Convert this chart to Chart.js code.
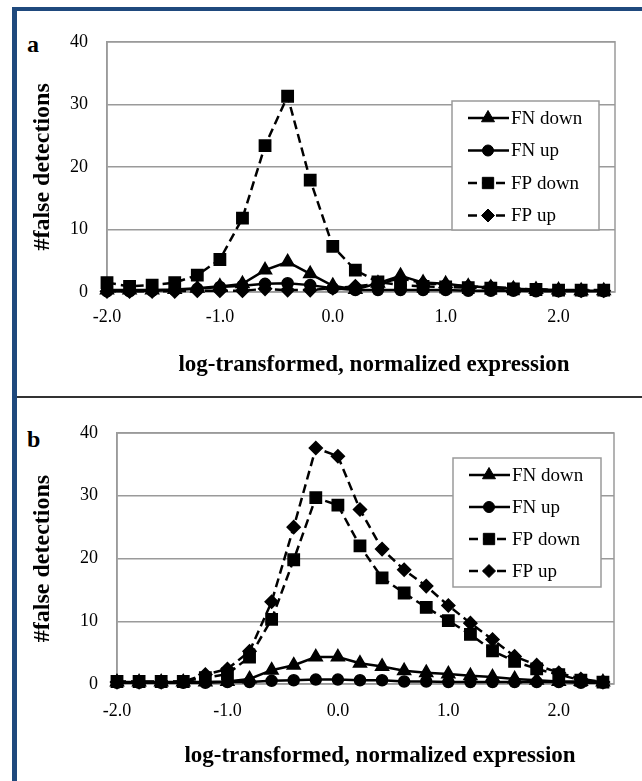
<!DOCTYPE html>
<html>
<head>
<meta charset="utf-8">
<script src="https://cdn.jsdelivr.net/npm/chart.js@4.4.1/dist/chart.umd.min.js"></script>
<style>
  body { margin: 0; background: #fff; }
  #page { position: relative; width: 642px; height: 781px; overflow: hidden; background: #fff; }
  .frame { position: absolute; left: 12px; top: 7px; right: 0; bottom: 0;
           border-left: 5px solid #1f497d; border-top: 4px solid #1f497d; }
  .rule { position: absolute; left: 17px; top: 396px; width: 625px; height: 2px; background: #333; }
  canvas { position: absolute; left: 17px; }
  .tag { position: absolute; left: 27px; font: bold 24px "Liberation Serif", serif; line-height: 24px; }
  .xtitle { position: absolute; transform: translateX(-50%); font: bold 23px "Liberation Serif", serif;
            line-height: 26px; white-space: nowrap; }
</style>
</head>
<body>
<div id="page">
  <div class="frame"></div>
  <div class="rule"></div>
  <div class="tag" style="top:32px">a</div>
  <div class="tag" style="top:427px">b</div>
  <canvas id="panelA" width="625" height="384" style="top:12px"></canvas>
  <canvas id="panelB" width="625" height="381" style="top:400px"></canvas>
  <div class="xtitle" style="left:374px; top:351px">log-transformed, normalized expression</div>
  <div class="xtitle" style="left:380px; top:742px">log-transformed, normalized expression</div>
</div>
<script>
const xValues = [-2.0, -1.8, -1.6, -1.4, -1.2, -1.0, -0.8, -0.6, -0.4, -0.2, 0.0, 0.2,
                 0.4, 0.6, 0.8, 1.0, 1.2, 1.4, 1.6, 1.8, 2.0, 2.2, 2.4];
const xTickValues = [-2, -1, 0, 1, 2];
const xTickLabels = ['-2.0', '-1.0', '0.0', '1.0', '2.0'];
const yTickValues = [0, 10, 20, 30, 40];
const seriesNames = ['FN down', 'FN up', 'FP down', 'FP up'];

// panel a
const fnDownA = [0.3, 0.3, 0.3, 0.4, 0.6, 0.9, 1.3, 3.5, 4.8, 2.9, 1.0, 0.4,
                 1.4, 2.6, 1.5, 1.3, 0.9, 0.7, 0.5, 0.4, 0.3, 0.2, 0.2];
const fnUpA   = [0.1, 0.1, 0.2, 0.3, 0.5, 0.8, 1.0, 1.3, 1.4, 1.1, 0.6, 0.3,
                 0.3, 0.3, 0.3, 0.3, 0.2, 0.2, 0.2, 0.1, 0.1, 0.1, 0.1];
const fpDownA = [1.5, 0.9, 1.1, 1.5, 2.7, 5.2, 11.8, 23.4, 31.3, 17.9, 7.3, 3.5,
                 1.6, 1.1, 0.9, 0.8, 0.7, 0.6, 0.5, 0.4, 0.3, 0.3, 0.3];
const fpUpA   = [0.1, 0.1, 0.1, 0.1, 0.2, 0.2, 0.2, 0.5, 0.3, 0.3, 0.6, 0.9,
                 1.3, 2.2, 1.4, 1.2, 0.9, 0.8, 0.6, 0.4, 0.3, 0.2, 0.2];

// panel b
const fnDownB = [0.3, 0.3, 0.3, 0.3, 0.3, 0.4, 0.8, 2.2, 3.0, 4.3, 4.3, 3.3,
                 2.8, 2.1, 1.8, 1.6, 1.3, 1.1, 0.8, 0.6, 0.4, 0.4, 0.3];
const fnUpB   = [0.2, 0.2, 0.2, 0.2, 0.2, 0.3, 0.3, 0.5, 0.6, 0.7, 0.7, 0.6,
                 0.6, 0.4, 0.4, 0.3, 0.3, 0.3, 0.3, 0.3, 0.3, 0.2, 0.2];
const fpDownB = [0.4, 0.4, 0.4, 0.4, 1.0, 1.6, 4.3, 10.3, 19.8, 29.7, 28.5, 22.0,
                 16.9, 14.5, 12.2, 10.1, 7.9, 5.3, 3.6, 2.4, 1.5, 0.6, 0.3];
const fpUpB   = [0.3, 0.3, 0.3, 0.4, 1.5, 2.4, 5.2, 13.1, 25.0, 37.6, 36.3, 27.8,
                 21.5, 18.2, 15.6, 12.5, 9.7, 7.1, 4.4, 3.0, 1.8, 0.8, 0.3];

const seriesStyle = [
  { pointStyle: 'triangle', pointRadius: 7.5, borderDash: [] },
  { pointStyle: 'circle',   pointRadius: 5.5, borderDash: [] },
  { pointStyle: 'rect',     pointRadius: 8,   borderDash: [9, 5] },
  { pointStyle: 'rectRot',  pointRadius: 6.5, borderDash: [9, 5] }
];

const serif = '"Liberation Serif", "Times New Roman", serif';
const gridGray = '#9a9a9a';

// plot area outline, drawn under the lines
const plotFrame = {
  id: 'plotFrame',
  beforeDatasetsDraw(chart) {
    const { ctx, chartArea: a } = chart;
    ctx.save();
    ctx.strokeStyle = gridGray;
    ctx.lineWidth = 1.5;
    ctx.strokeRect(a.left, a.top, a.right - a.left, a.bottom - a.top);
    ctx.restore();
  }
};

// boxed legend sitting inside the plot
const boxLegend = {
  id: 'boxLegend',
  afterDraw(chart, args, o) {
    const ctx = chart.ctx;
    ctx.save();
    ctx.fillStyle = '#fff';
    ctx.fillRect(o.x, o.y, o.w, o.h);
    ctx.strokeStyle = gridGray;
    ctx.lineWidth = 1.5;
    ctx.strokeRect(o.x, o.y, o.w, o.h);
    chart.data.datasets.forEach((ds, i) => {
      const y = o.y + o.rows[i];
      ctx.strokeStyle = '#000';
      ctx.fillStyle = '#000';
      ctx.lineWidth = 2.5;
      ctx.setLineDash(ds.borderDash);
      ctx.beginPath();
      ctx.moveTo(o.x + 16, y);
      ctx.lineTo(o.x + 57, y);
      ctx.stroke();
      ctx.setLineDash([]);
      ctx.lineWidth = 1;
      Chart.helpers.drawPoint(ctx, {
        pointStyle: ds.pointStyle, radius: ds.pointRadius, rotation: 0, borderWidth: 1
      }, o.x + 36, y);
      ctx.font = '19px ' + serif;
      ctx.textBaseline = 'middle';
      ctx.fillText(ds.label, o.x + 59, y + 1);
    });
    ctx.restore();
  }
};

function panel(id, series, box) {
  return new Chart(document.getElementById(id), {
    type: 'line',
    data: {
      datasets: series.map((vals, i) => ({
        label: seriesNames[i],
        data: xValues.map((x, j) => ({ x: x, y: vals[j] })),
        borderColor: '#000',
        backgroundColor: '#000',
        pointBackgroundColor: '#000',
        pointBorderColor: '#000',
        pointBorderWidth: 1.5,
        borderWidth: 2.5,
        tension: 0,
        clip: false,
        ...seriesStyle[i]
      }))
    },
    options: {
      responsive: false,
      animation: false,
      events: [],
      layout: { padding: { left: 0, right: box.padRight, top: box.padTop, bottom: 0 } },
      plugins: {
        legend: { display: false },
        tooltip: { enabled: false },
        boxLegend: box.legend
      },
      scales: {
        x: {
          type: 'linear',
          min: -2, max: 2.5,
          afterBuildTicks: s => { s.ticks = xTickValues.map(v => ({ value: v })); },
          afterFit: s => { s.height = box.xHeight; },
          ticks: {
            callback: (v, i) => xTickLabels[i],
            font: { family: serif, size: 18 },
            color: '#000',
            padding: box.xPad,
            maxRotation: 0,
            autoSkip: false
          },
          grid: { display: false },
          border: { display: false }
        },
        y: {
          min: 0, max: 40,
          afterBuildTicks: s => { s.ticks = yTickValues.map(v => ({ value: v })); },
          afterFit: s => { s.width = box.yWidth; },
          ticks: {
            font: { family: serif, size: 18 },
            color: '#000',
            padding: 19
          },
          grid: { color: gridGray, lineWidth: 1.5, drawTicks: false },
          border: { display: true, color: gridGray, width: 1.5 },
          title: {
            display: true,
            text: '#false detections',
            color: '#000',
            font: { family: serif, size: 24, weight: 'bold' },
            padding: { top: 11, bottom: 0 }
          }
        }
      }
    },
    plugins: [plotFrame, boxLegend]
  });
}

panel('panelA', [fnDownA, fnUpA, fpDownA, fpUpA], {
  padRight: 27, padTop: 28, xHeight: 104, xPad: 6, yWidth: 90,
  legend: { x: 435, y: 89, w: 147, h: 129, rows: [17, 49.5, 82, 114.5] }
});

panel('panelB', [fnDownB, fnUpB, fpDownB, fpUpB], {
  padRight: 28, padTop: 33, xHeight: 97, xPad: 8, yWidth: 100,
  legend: { x: 436, y: 58, w: 148, h: 129, rows: [17, 49, 81, 113] }
});
</script>
</body>
</html>
